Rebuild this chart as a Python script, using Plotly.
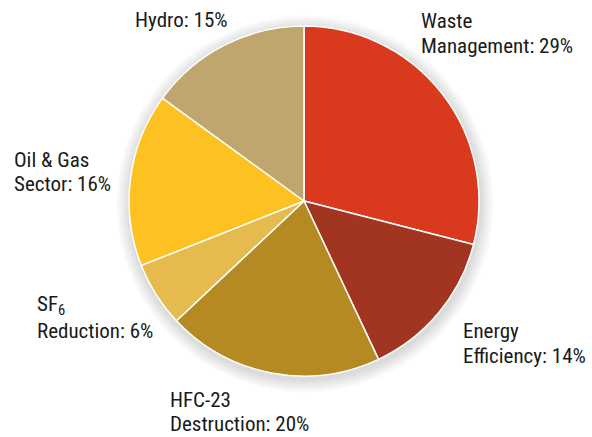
import plotly.graph_objects as go

categories = ["Waste Management", "Energy Efficiency", "HFC-23 Destruction", "SF6 Reduction", "Oil & Gas Sector", "Hydro"]
values = [29, 14, 20, 6, 16, 15]
label_lines = [["Waste", "Management: 29%"], ["Energy", "Efficiency: 14%"], ["HFC-23", "Destruction: 20%"],
               ["SF<sub>6</sub>", "Reduction: 6%"], ["Oil & Gas", "Sector: 16%"], ["Hydro: 15%"]]
colors = ["#D93A1E", "#A23522", "#B58A22", "#E5BA4E", "#FDC121", "#BFA56E"]

W, H = 592, 437
# label anchor positions in pixels (left x, vertical center y of each line)
label_pos = [(419, [21, 46]), (461, [331, 356]), (168, [400, 424]), (35, [305, 331]), (12, [160, 184]), (133, [20])]

cx, cy, r = 304, 201, 175


def dom(cx_, cy_, r_):
    return dict(x=[(cx_ - r_) / W, (cx_ + r_) / W], y=[(H - cy_ - r_) / H, (H - cy_ + r_) / H])


fig = go.Figure()
# soft shadow layers
for k in range(6, 0, -1):
    fig.add_trace(go.Pie(values=[1], labels=["shadow"], sort=False, marker=dict(colors=["#000000"], line=dict(width=0)),
                         textinfo="none", hoverinfo="skip", opacity=0.025, domain=dom(cx + 1, cy + 3, r + k * 2.2),
                         showlegend=False))

fig.add_trace(go.Pie(
    labels=categories, values=values, sort=False, direction="clockwise", rotation=0,
    marker=dict(colors=colors, line=dict(color="white", width=1.5)),
    textinfo="none", hoverinfo="label+percent",
    domain=dom(cx, cy, r),
))

font = dict(family="Roboto Condensed, Liberation Sans Narrow, DejaVu Sans Condensed, sans-serif", size=21, color="#1a1a1a")
for lines, (px, ys) in zip(label_lines, label_pos):
    for t, py in zip(lines, ys):
        fig.add_annotation(text=t, x=px / W, y=1 - py / H, xref="paper", yref="paper",
                           xanchor="left", yanchor="middle", align="left", showarrow=False, font=font)

fig.update_layout(width=W, height=H, margin=dict(l=0, r=0, t=0, b=0), showlegend=False,
                  paper_bgcolor="white", plot_bgcolor="white")
fig.write_html("out.html")
